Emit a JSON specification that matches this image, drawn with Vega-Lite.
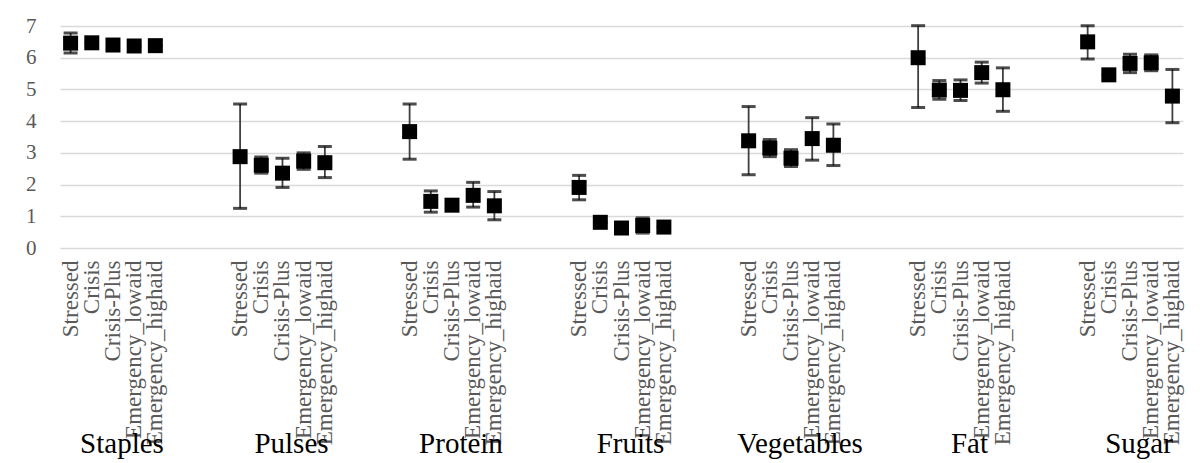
{
  "$schema": "https://vega.github.io/schema/vega-lite/v6.json",
  "width": 1123,
  "height": 222,
  "autosize": {"type": "none"},
  "padding": {"left": 60, "top": 26, "right": 20, "bottom": 215},
  "background": "white",
  "config": {
    "view": {"stroke": null},
    "font": "Liberation Serif",
    "axisY": {
      "domain": false, "ticks": false, "labelPadding": 24,
      "labelFont": "Liberation Serif", "labelFontSize": 21, "labelColor": "#595959",
      "gridColor": "#d9d9d9", "gridWidth": 1.3, "title": null, "tickCount": 8
    }
  },
  "data": {
    "values": [
      {"group": "Staples", "level": "Stressed", "mean": 6.46, "lo": 6.15, "hi": 6.78},
      {"group": "Staples", "level": "Crisis", "mean": 6.47, "lo": 6.47, "hi": 6.47},
      {"group": "Staples", "level": "Crisis-Plus", "mean": 6.40, "lo": 6.40, "hi": 6.40},
      {"group": "Staples", "level": "Emergency_lowaid", "mean": 6.37, "lo": 6.37, "hi": 6.37},
      {"group": "Staples", "level": "Emergency_highaid", "mean": 6.38, "lo": 6.38, "hi": 6.38},
      {"group": "Pulses", "level": "Stressed", "mean": 2.88, "lo": 1.25, "hi": 4.54},
      {"group": "Pulses", "level": "Crisis", "mean": 2.61, "lo": 2.36, "hi": 2.87},
      {"group": "Pulses", "level": "Crisis-Plus", "mean": 2.36, "lo": 1.91, "hi": 2.83},
      {"group": "Pulses", "level": "Emergency_lowaid", "mean": 2.74, "lo": 2.48, "hi": 3.0},
      {"group": "Pulses", "level": "Emergency_highaid", "mean": 2.69, "lo": 2.22, "hi": 3.2},
      {"group": "Protein", "level": "Stressed", "mean": 3.67, "lo": 2.8, "hi": 4.54},
      {"group": "Protein", "level": "Crisis", "mean": 1.47, "lo": 1.13, "hi": 1.8},
      {"group": "Protein", "level": "Crisis-Plus", "mean": 1.35, "lo": 1.35, "hi": 1.35},
      {"group": "Protein", "level": "Emergency_lowaid", "mean": 1.66, "lo": 1.29, "hi": 2.07},
      {"group": "Protein", "level": "Emergency_highaid", "mean": 1.33, "lo": 0.89, "hi": 1.78},
      {"group": "Fruits", "level": "Stressed", "mean": 1.91, "lo": 1.52, "hi": 2.29},
      {"group": "Fruits", "level": "Crisis", "mean": 0.81, "lo": 0.81, "hi": 0.81},
      {"group": "Fruits", "level": "Crisis-Plus", "mean": 0.63, "lo": 0.63, "hi": 0.63},
      {"group": "Fruits", "level": "Emergency_lowaid", "mean": 0.71, "lo": 0.47, "hi": 0.95},
      {"group": "Fruits", "level": "Emergency_highaid", "mean": 0.66, "lo": 0.66, "hi": 0.66},
      {"group": "Vegetables", "level": "Stressed", "mean": 3.38, "lo": 2.31, "hi": 4.46},
      {"group": "Vegetables", "level": "Crisis", "mean": 3.15, "lo": 2.88, "hi": 3.42},
      {"group": "Vegetables", "level": "Crisis-Plus", "mean": 2.83, "lo": 2.57, "hi": 3.1},
      {"group": "Vegetables", "level": "Emergency_lowaid", "mean": 3.45, "lo": 2.77, "hi": 4.11},
      {"group": "Vegetables", "level": "Emergency_highaid", "mean": 3.24, "lo": 2.6, "hi": 3.91},
      {"group": "Fat", "level": "Stressed", "mean": 6.0, "lo": 4.43, "hi": 7.01},
      {"group": "Fat", "level": "Crisis", "mean": 4.98, "lo": 4.69, "hi": 5.28},
      {"group": "Fat", "level": "Crisis-Plus", "mean": 4.97, "lo": 4.65, "hi": 5.3},
      {"group": "Fat", "level": "Emergency_lowaid", "mean": 5.53, "lo": 5.2, "hi": 5.86},
      {"group": "Fat", "level": "Emergency_highaid", "mean": 4.99, "lo": 4.31, "hi": 5.68},
      {"group": "Sugar", "level": "Stressed", "mean": 6.5, "lo": 5.96, "hi": 7.01},
      {"group": "Sugar", "level": "Crisis", "mean": 5.46, "lo": 5.46, "hi": 5.46},
      {"group": "Sugar", "level": "Crisis-Plus", "mean": 5.82, "lo": 5.53, "hi": 6.11},
      {"group": "Sugar", "level": "Emergency_lowaid", "mean": 5.84, "lo": 5.59, "hi": 6.09},
      {"group": "Sugar", "level": "Emergency_highaid", "mean": 4.79, "lo": 3.95, "hi": 5.63}
    ]
  },
  "transform": [{"calculate": "datum.group + '|' + datum.level", "as": "key"}],
  "resolve": {"axis": {"x": "independent"}},
  "layer": [
    {
      "mark": {"type": "rule", "color": "#404040", "strokeWidth": 1.8},
      "encoding": {
        "x": {
          "field": "key", "type": "nominal", "sort": null,
          "scale": {
            "domain": [
              "Staples|Stressed", "Staples|Crisis", "Staples|Crisis-Plus", "Staples|Emergency_lowaid", "Staples|Emergency_highaid", "Staples|_1", "Staples|_2", "Staples|_3",
              "Pulses|Stressed", "Pulses|Crisis", "Pulses|Crisis-Plus", "Pulses|Emergency_lowaid", "Pulses|Emergency_highaid", "Pulses|_1", "Pulses|_2", "Pulses|_3",
              "Protein|Stressed", "Protein|Crisis", "Protein|Crisis-Plus", "Protein|Emergency_lowaid", "Protein|Emergency_highaid", "Protein|_1", "Protein|_2", "Protein|_3",
              "Fruits|Stressed", "Fruits|Crisis", "Fruits|Crisis-Plus", "Fruits|Emergency_lowaid", "Fruits|Emergency_highaid", "Fruits|_1", "Fruits|_2", "Fruits|_3",
              "Vegetables|Stressed", "Vegetables|Crisis", "Vegetables|Crisis-Plus", "Vegetables|Emergency_lowaid", "Vegetables|Emergency_highaid", "Vegetables|_1", "Vegetables|_2", "Vegetables|_3",
              "Fat|Stressed", "Fat|Crisis", "Fat|Crisis-Plus", "Fat|Emergency_lowaid", "Fat|Emergency_highaid", "Fat|_1", "Fat|_2", "Fat|_3",
              "Sugar|Stressed", "Sugar|Crisis", "Sugar|Crisis-Plus", "Sugar|Emergency_lowaid", "Sugar|Emergency_highaid"
            ],
            "paddingInner": 0, "paddingOuter": 0
          },
          "axis": {
            "orient": "bottom", "title": null, "domain": false, "ticks": false, "grid": false,
            "labelAngle": -90, "labelAlign": "right", "labelBaseline": "middle",
            "labelPadding": 12, "labelOverlap": false, "labelLimit": 300,
            "labelFont": "Liberation Serif", "labelFontSize": 23, "labelColor": "#595959",
            "labelExpr": "indexof(datum.value, '|_') >= 0 ? '' : slice(datum.value, indexof(datum.value, '|') + 1)"
          }
        },
        "y": {"field": "lo", "type": "quantitative", "scale": {"domain": [0, 7], "nice": false}, "axis": {"values": [0, 1, 2, 3, 4, 5, 6, 7]}},
        "y2": {"field": "hi"}
      }
    },
    {
      "mark": {"type": "tick", "color": "black", "size": 14, "thickness": 3, "orient": "horizontal"},
      "encoding": {
        "x": {"field": "key", "type": "nominal", "sort": null, "axis": null},
        "y": {"field": "lo", "type": "quantitative"}
      }
    },
    {
      "mark": {"type": "tick", "color": "black", "size": 14, "thickness": 3, "orient": "horizontal"},
      "encoding": {
        "x": {
          "field": "key", "type": "nominal", "sort": null,
          "axis": {
            "orient": "bottom", "title": null, "domain": false, "ticks": false, "grid": false,
            "labelAngle": 0, "labelAlign": "center", "labelBaseline": "alphabetic",
            "labelPadding": 204, "labelOffset": 9, "labelOverlap": false, "labelLimit": 300,
            "labelFont": "Liberation Serif", "labelFontSize": 29, "labelColor": "black",
            "labelExpr": "indexof(datum.value, '|Crisis-Plus') >= 0 ? slice(datum.value, 0, indexof(datum.value, '|')) : ''"
          }
        },
        "y": {"field": "hi", "type": "quantitative"}
      }
    },
    {
      "mark": {"type": "point", "shape": "square", "filled": true, "color": "black", "size": 225, "opacity": 1},
      "encoding": {
        "x": {"field": "key", "type": "nominal", "sort": null, "axis": null},
        "y": {"field": "mean", "type": "quantitative"}
      }
    }
  ]
}
